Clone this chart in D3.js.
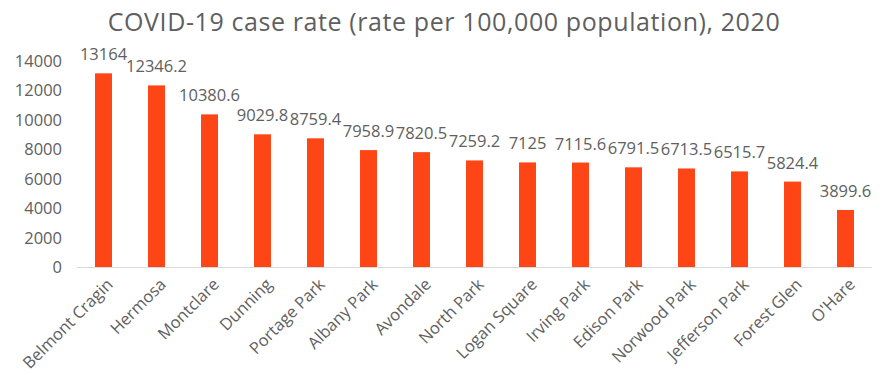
<!DOCTYPE html>
<html>
<head>
<meta charset="utf-8">
<script src="https://cdn.jsdelivr.net/npm/d3@7"></script>
<style>
  html, body { margin: 0; padding: 0; background: #ffffff; }
  svg { display: block; }
  text { font-family: "Open Sans", "Noto Sans", sans-serif; fill: #595959; }
</style>
</head>
<body>
<svg id="chart" width="888" height="375"></svg>
<script>
const categories = ["Belmont Cragin", "Hermosa", "Montclare", "Dunning", "Portage Park",
  "Albany Park", "Avondale", "North Park", "Logan Square", "Irving Park",
  "Edison Park", "Norwood Park", "Jefferson Park", "Forest Glen", "O'Hare"];
const rates = [13164, 12346.2, 10380.6, 9029.8, 8759.4, 7958.9, 7820.5, 7259.2,
  7125, 7115.6, 6791.5, 6713.5, 6515.7, 5824.4, 3899.6];
const yTicks = [0, 2000, 4000, 6000, 8000, 10000, 12000, 14000];
const title = "COVID-19 case rate (rate per 100,000 population), 2020";

const svg = d3.select("#chart");
const margin = { left: 77, right: 16, top: 61, bottom: 108 };
const W = 888, H = 375;

const x = d3.scaleBand()
  .domain(categories)
  .range([margin.left, W - margin.right])
  .paddingInner(0.68)
  .paddingOuter(0.34);

const y = d3.scaleLinear()
  .domain([0, 14000])
  .range([H - margin.bottom + 0.5, margin.top]);

// title
svg.append("text")
  .attr("x", 444)
  .attr("y", 31)
  .attr("text-anchor", "middle")
  .style("font-size", "25px")
  .style("letter-spacing", "0.6px")
  .style("fill", "#5f5f5f")
  .text(title);

// y axis labels (no axis line)
const yAxis = d3.axisLeft(y).tickValues(yTicks).tickSize(0).tickPadding(0).tickFormat(d3.format("d"));
const gy = svg.append("g").attr("transform", `translate(${margin.left - 15},0)`).call(yAxis);
gy.select(".domain").remove();
gy.selectAll("text").attr("font-family", null)
  .style("font-size", "16.5px").style("fill", "#606060");

// bars
svg.append("g").selectAll("rect")
  .data(rates)
  .join("rect")
  .attr("x", (d, i) => x(categories[i]))
  .attr("width", x.bandwidth())
  .attr("y", d => y(d))
  .attr("height", d => y(0) - y(d))
  .attr("fill", "#fe4516");

// baseline and category labels
const xAxis = d3.axisBottom(x).tickSize(0).tickPadding(0);
const gx = svg.append("g").attr("transform", `translate(0,${y(0)})`).call(xAxis);
gx.select(".domain").attr("stroke", "#d9d9d9").attr("stroke-width", 1.2)
  .attr("d", `M${margin.left},0H${W - margin.right}`);
gx.selectAll("text")
  .attr("font-family", null)
  .style("font-size", "16.5px")
  .style("fill", "#606060")
  .attr("text-anchor", "end")
  .attr("dy", null)
  .attr("transform", `translate(${x.bandwidth() / 2 + 2},18) rotate(-45)`)
  .attr("y", 0)
  .attr("x", 0);

// value labels
svg.append("g").selectAll("text")
  .data(rates)
  .join("text")
  .attr("x", (d, i) => x(categories[i]) + x.bandwidth() / 2)
  .attr("y", d => y(d) - 13)
  .attr("text-anchor", "middle")
  .style("font-size", "16.5px")
  .style("fill", "#606060")
  .text(d => d);
</script>
</body>
</html>
